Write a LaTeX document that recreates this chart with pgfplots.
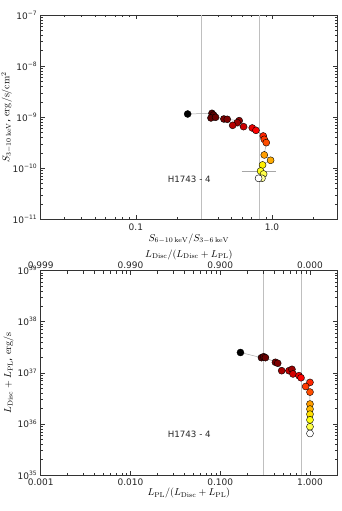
\documentclass[border=0pt]{standalone}
\usepackage[no-math]{fontspec}
\setmainfont{DejaVu Sans}
\usepackage{pgfplots}
\pgfplotsset{compat=1.18}

\pgfplotstableread{
x y c
0.240 1.153e-9 0.00
0.362 1.189e-9 0.12
0.372 1.102e-9 0.13
0.356 0.964e-9 0.14
0.385 0.993e-9 0.15
0.443 0.921e-9 0.17
0.469 0.907e-9 0.18
0.574 0.854e-9 0.20
0.555 0.780e-9 0.22
0.514 0.692e-9 0.26
0.618 0.652e-9 0.29
0.716 0.614e-9 0.33
0.762 0.552e-9 0.36
0.862 0.428e-9 0.42
0.877 0.368e-9 0.45
0.907 0.317e-9 0.48
0.877 0.182e-9 0.60
0.976 0.143e-9 0.62
0.852 0.116e-9 0.72
0.824 0.0883e-9 0.77
0.867 0.0771e-9 0.82
0.843 0.0635e-9 0.90
0.797 0.0635e-9 1.00
}\toptable

\pgfplotstableread{
x y c
0.168 2.50e37 0.00
0.288 1.98e37 0.12
0.305 2.07e37 0.13
0.319 1.98e37 0.15
0.412 1.61e37 0.17
0.437 1.54e37 0.18
0.484 1.10e37 0.24
0.583 1.10e37 0.27
0.630 1.17e37 0.22
0.647 0.95e37 0.30
0.754 0.88e37 0.33
0.794 0.80e37 0.36
1.000 6.50e36 0.42
0.895 5.40e36 0.45
1.000 4.20e36 0.48
1.000 2.45e36 0.60
1.000 1.95e36 0.64
1.000 1.55e36 0.70
1.000 1.20e36 0.76
1.000 0.88e36 0.82
1.000 0.65e36 1.00
}\bottable

\pgfplotsset{
  colormap={hotmpl}{rgb(0cm)=(0,0,0); rgb(3.65cm)=(1,0,0); rgb(7.46cm)=(1,1,0); rgb(10cm)=(1,1,1)},
}

\begin{document}
\begin{tikzpicture}
\useasboundingbox (0,0) rectangle (341pt,511pt);
% ---------------- top panel
\begin{axis}[
  scale only axis, width=296.3pt, height=204.3pt,
  xmode=log, ymode=log,
  axis line style={black!80, line width=0.6pt},
  tick style={black!80, line width=0.5pt},
  major tick length=4pt, minor tick length=2pt,
  ticklabel style={font=\fontsize{9}{10}\selectfont, text=black!85},
  label style={font=\fontsize{10}{12}\selectfont},
  xticklabel style={yshift=-0.5pt},
  point meta min=0, point meta max=1,
  colormap name=hotmpl,
  at={(40.7pt,291.7pt)}, anchor=south west,
  xmin=0.02, xmax=3, ymin=1e-11, ymax=1e-7,
  xtick={0.1,1}, xticklabels={0.1,1.0},
  minor xtick={0.02,0.03,0.04,0.05,0.06,0.07,0.08,0.09,0.2,0.3,0.4,0.5,0.6,0.7,0.8,0.9,2,3},
  ytick={1e-11,1e-10,1e-9,1e-8,1e-7},
  yticklabels={10\textsuperscript{−11},10\textsuperscript{−10},10\textsuperscript{−9},10\textsuperscript{−8},10\textsuperscript{−7}},
  minor ytick={2e-11,3e-11,4e-11,5e-11,6e-11,7e-11,8e-11,9e-11,
    2e-10,3e-10,4e-10,5e-10,6e-10,7e-10,8e-10,9e-10,
    2e-9,3e-9,4e-9,5e-9,6e-9,7e-9,8e-9,9e-9,
    2e-8,3e-8,4e-8,5e-8,6e-8,7e-8,8e-8,9e-8},
  xlabel={$S_{6-10\,\mathrm{keV}}/S_{3-6\,\mathrm{keV}}$},
  ylabel={$S_{3-10\,\mathrm{keV}}$, $\mathrm{erg/s/cm^2}$},
  xlabel style={at={(axis description cs:0.5,-0.095)}, anchor=center},
  ylabel style={at={(axis description cs:-0.115,0.5)}, anchor=center},
]
\addplot[black!25, line width=0.6pt, forget plot] coordinates {(0.3,1e-11) (0.3,1e-7)};
\addplot[black!25, line width=0.6pt, forget plot] coordinates {(0.8,1e-11) (0.8,1e-7)};
\addplot[black!35, line width=0.5pt, mark=none, forget plot] table[x=x,y=y] {\toptable};
\addplot[black!35, line width=0.6pt, mark=none, forget plot] coordinates {(0.598,0.0883e-9) (1.068,0.0883e-9)};
\addplot[scatter, only marks, mark=*, mark size=3.5pt, point meta=explicit,
  scatter/use mapped color={draw=black, fill=mapped color},
  mark options={line width=0.4pt}] table[x=x,y=y,meta=c] {\toptable};
\node[font=\fontsize{8.7}{10}\selectfont, text=black!85] at (axis description cs:0.5015,0.197) {H1743 - 4};
\end{axis}
% ---------------- bottom panel
\begin{axis}[
  scale only axis, width=296.3pt, height=204.3pt,
  xmode=log, ymode=log,
  axis line style={black!80, line width=0.6pt},
  tick style={black!80, line width=0.5pt},
  major tick length=4pt, minor tick length=2pt,
  ticklabel style={font=\fontsize{9}{10}\selectfont, text=black!85},
  label style={font=\fontsize{10}{12}\selectfont},
  xticklabel style={yshift=-0.5pt},
  point meta min=0, point meta max=1,
  colormap name=hotmpl,
  at={(40.7pt,36pt)}, anchor=south west,
  xmin=0.001, xmax=2, ymin=1e35, ymax=1e39,
  xticklabel pos=bottom,
  xtick={0.001,0.01,0.1,1}, xticklabels={0.001,0.010,0.100,1.000},
  minor xtick={0.002,0.003,0.004,0.005,0.006,0.007,0.008,0.009,
    0.02,0.03,0.04,0.05,0.06,0.07,0.08,0.09,0.2,0.3,0.4,0.5,0.6,0.7,0.8,0.9,2},
  ytick={1e35,1e36,1e37,1e38,1e39},
  yticklabels={10\textsuperscript{35},10\textsuperscript{36},10\textsuperscript{37},10\textsuperscript{38},10\textsuperscript{39}},
  minor ytick={2e35,3e35,4e35,5e35,6e35,7e35,8e35,9e35,
    2e36,3e36,4e36,5e36,6e36,7e36,8e36,9e36,
    2e37,3e37,4e37,5e37,6e37,7e37,8e37,9e37,
    2e38,3e38,4e38,5e38,6e38,7e38,8e38,9e38},
  xlabel={$L_{\mathrm{PL}}/(L_{\mathrm{Disc}}+L_{\mathrm{PL}})$},
  ylabel={$L_{\mathrm{Disc}}+L_{\mathrm{PL}}$, $\mathrm{erg/s}$},
  xlabel style={at={(axis description cs:0.5,-0.089)}, anchor=center},
  ylabel style={at={(axis description cs:-0.108,0.5)}, anchor=center},
]
\addplot[black!25, line width=0.6pt, forget plot] coordinates {(0.3,1e35) (0.3,1e39)};
\addplot[black!25, line width=0.6pt, forget plot] coordinates {(0.8,1e35) (0.8,1e39)};
\addplot[black!35, line width=0.5pt, mark=none, forget plot] table[x=x,y=y] {\bottable};
\addplot[scatter, only marks, mark=*, mark size=3.5pt, point meta=explicit,
  scatter/use mapped color={draw=black, fill=mapped color},
  mark options={line width=0.4pt}] table[x=x,y=y,meta=c] {\bottable};
\node[font=\fontsize{8.7}{10}\selectfont, text=black!85] at (axis description cs:0.5015,0.2) {H1743 - 4};
\end{axis}
\begin{axis}[
  scale only axis, width=296.3pt, height=204.3pt,
  at={(40.7pt,36pt)}, anchor=south west,
  xmode=log, xmin=0.001, xmax=2, ymin=0, ymax=1,
  axis x line*=top, hide y axis,
  axis line style={black!80, line width=0.6pt},
  tick style={black!80, line width=0.5pt}, major tick length=4pt,
  xtick={0.001,0.01,0.1,1}, xticklabels={0.999,0.990,0.900,0.000},
  minor xtick={},
  ticklabel style={font=\fontsize{9}{10}\selectfont, text=black!85},
  xticklabel style={yshift=-1pt},
  label style={font=\fontsize{10}{12}\selectfont},
  xlabel={$L_{\mathrm{Disc}}/(L_{\mathrm{Disc}}+L_{\mathrm{PL}})$},
  xlabel style={at={(axis description cs:0.5,1.079)}, anchor=center},
]
\addplot[draw=none] coordinates {(0.01,0.5)};
\end{axis}
\end{tikzpicture}
\end{document}
